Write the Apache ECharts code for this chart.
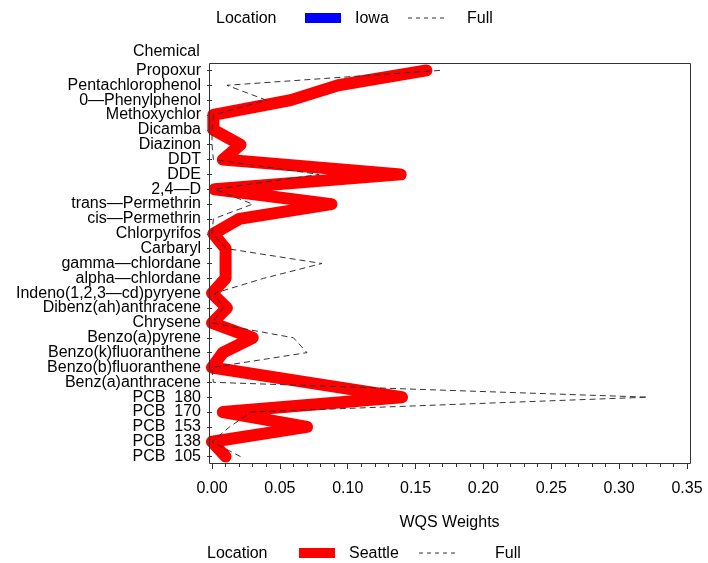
<!DOCTYPE html>
<html>
<head>
<meta charset="utf-8">
<script src="https://cdn.jsdelivr.net/npm/echarts@6/dist/echarts.min.js"></script>
<style>
  html, body { margin: 0; padding: 0; background: #fff; }
  #chart { width: 708px; height: 563px; }
</style>
</head>
<body>
<div id="chart"></div>
<script>
// chemicals, top to bottom
const chemicals = [
  'Propoxur', 'Pentachlorophenol', '0—Phenylphenol', 'Methoxychlor', 'Dicamba',
  'Diazinon', 'DDT', 'DDE', '2,4—D', 'trans—Permethrin', 'cis—Permethrin',
  'Chlorpyrifos', 'Carbaryl', 'gamma—chlordane', 'alpha—chlordane',
  'Indeno(1,2,3—cd)pyryene', 'Dibenz(ah)anthracene', 'Chrysene', 'Benzo(a)pyrene',
  'Benzo(k)fluoranthene', 'Benzo(b)fluoranthene', 'Benz(a)anthracene',
  'PCB  180', 'PCB  170', 'PCB  153', 'PCB  138', 'PCB  105'
];

// WQS weights
const seattleWeights = [
  0.158, 0.093, 0.058, 0.001, 0.001, 0.021, 0.008, 0.139, 0.002, 0.088,
  0.020, 0.001, 0.010, 0.010, 0.010, 0.000, 0.011, 0.000, 0.030, 0.008,
  0.000, 0.070, 0.140, 0.008, 0.070, 0.000, 0.010
];
const fullWeights = [
  0.168, 0.011, 0.040, 0.001, 0.000, 0.000, 0.001, 0.079, 0.002, 0.030,
  0.001, 0.000, 0.011, 0.081, 0.038, 0.002, 0.008, 0.000, 0.060, 0.070,
  0.000, 0.001, 0.321, 0.029, 0.013, 0.000, 0.021
];

const xTicks = { min: 0, max: 0.35, interval: 0.05 };

const font = 'Liberation Sans';
const chart = echarts.init(document.getElementById('chart'));

function legendRow(y, swatchColor, label, pos) {
  return [
    { type: 'text', left: pos[0], top: y - 7, style: { text: 'Location', font: '16px ' + font, fill: '#000' } },
    { type: 'rect', shape: { x: pos[1], y: y - 5, width: 36, height: 10 }, style: { fill: swatchColor } },
    { type: 'text', left: pos[2], top: y - 7, style: { text: label, font: '16px ' + font, fill: '#000' } },
    { type: 'line', shape: { x1: pos[3], y1: y, x2: pos[3] + 37, y2: y },
      style: { stroke: '#333', lineWidth: 1, lineDash: [4, 4] } },
    { type: 'text', left: pos[4], top: y - 7, style: { text: 'Full', font: '16px ' + font, fill: '#000' } }
  ];
}

const option = {
  animation: false,
  textStyle: { fontFamily: font },
  grid: { left: 212, right: 21, top: 63, bottom: 99 },
  xAxis: {
    type: 'value',
    min: xTicks.min,
    max: xTicks.max,
    interval: xTicks.interval,
    name: 'WQS Weights',
    nameLocation: 'middle',
    nameGap: 51,
    nameTextStyle: { fontSize: 16, color: '#000' },
    axisLine: { show: false },
    axisTick: { show: true, length: 5, lineStyle: { color: '#333' } },
    minorTick: { show: true, splitNumber: 5, length: 3, lineStyle: { color: '#333' } },
    splitLine: { show: false },
    axisLabel: { fontSize: 16, color: '#000', margin: 17, formatter: v => v.toFixed(2) }
  },
  yAxis: {
    type: 'category',
    data: chemicals,
    inverse: true,
    boundaryGap: true,
    offset: 3,
    axisLine: { show: false },
    axisTick: { show: true, alignWithLabel: true, length: 5, lineStyle: { color: '#333' } },
    axisLabel: { fontSize: 16, color: '#000', margin: 8, interval: 0 }
  },
  series: [
    {
      name: 'Seattle',
      type: 'line',
      data: seattleWeights,
      showSymbol: false,
      lineStyle: { color: '#ff0000', width: 12, cap: 'round', join: 'round' },
      z: 2
    },
    {
      name: 'Full',
      type: 'line',
      data: fullWeights,
      showSymbol: false,
      lineStyle: { color: '#333', width: 1, type: [6, 4] },
      z: 3
    }
  ],
  graphic: [
    { type: 'rect', shape: { x: 209.5, y: 63.5, width: 481, height: 400 },
      style: { fill: 'none', stroke: '#333', lineWidth: 1 }, z: 10 },
    { type: 'text', left: 133, top: 44, style: { text: 'Chemical', font: '16px ' + font, fill: '#000' } }
  ]
    .concat(legendRow(18, '#0000ff', 'Iowa', [216, 305, 355, 408, 467]))
    .concat(legendRow(553, '#ff0000', 'Seattle', [207, 299, 349, 419, 495]))
};

chart.setOption(option);
</script>
</body>
</html>
